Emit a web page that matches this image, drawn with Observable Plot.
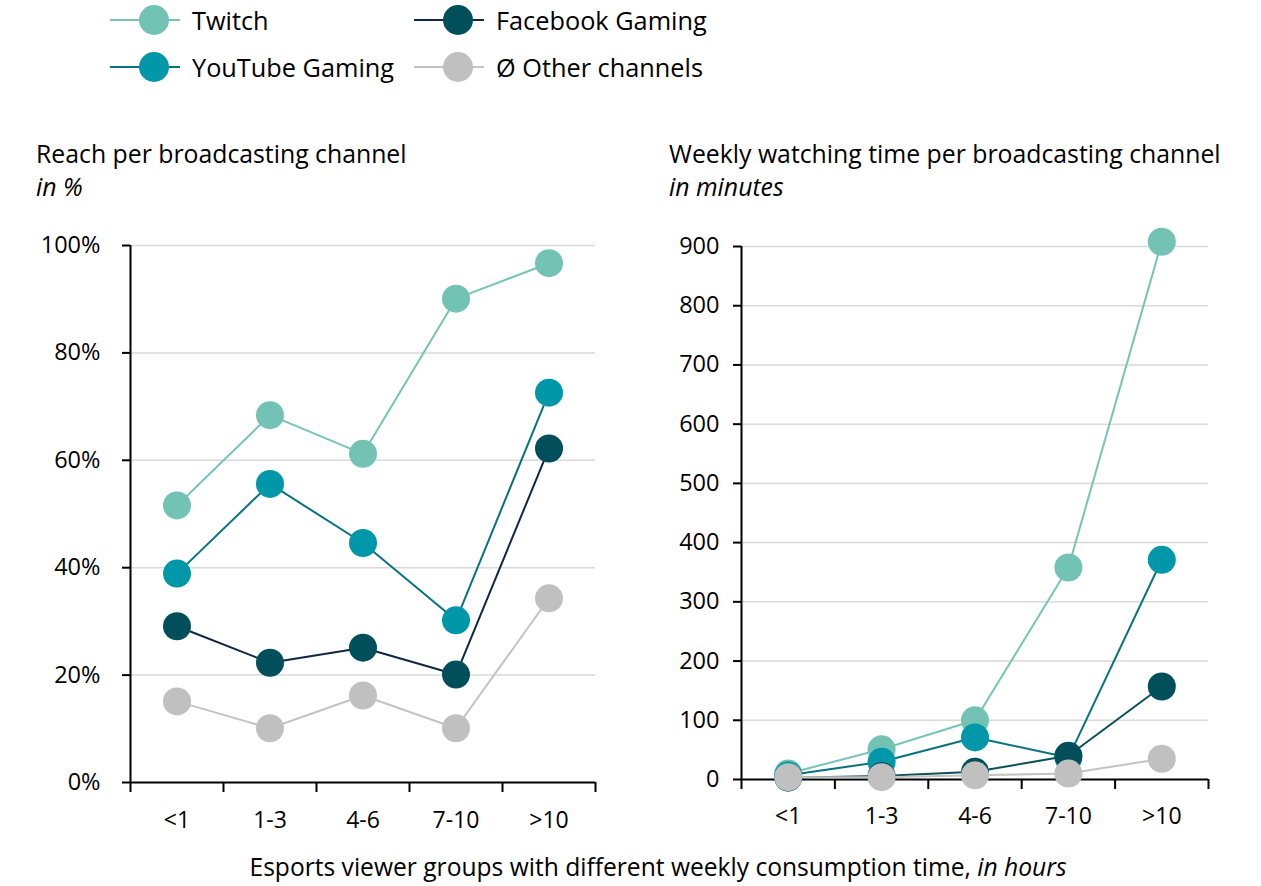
<!DOCTYPE html>
<html>
<head>
<meta charset="utf-8">
<script src="https://cdn.jsdelivr.net/npm/d3@7"></script>
<script src="https://cdn.jsdelivr.net/npm/@observablehq/plot@0.6"></script>
<style>
  html, body { margin: 0; padding: 0; background: #fff; }
  body { width: 1261px; height: 886px; position: relative; overflow: hidden; font-family: "Open Sans", Lato, sans-serif; color: #000; }
  .abs { position: absolute; white-space: nowrap; }
  .title { font-size: 24.8px; line-height: 33px; }
  .legend-item { position: absolute; display: flex; align-items: center; font-size: 25.3px; height: 36px; }
  .legend-item svg { display: block; margin-right: 12px; }
  #caption { font-size: 24.6px; left: 0; width: 1316px; text-align: center; top: 850px; }
</style>
</head>
<body>
<div id="legend"></div>
<div class="abs title" style="left:36px; top:137px;">Reach per broadcasting channel<br><i>in %</i></div>
<div class="abs title" style="left:669px; top:137px;">Weekly watching time per broadcasting channel<br><i>in minutes</i></div>
<div id="left" class="abs" style="left:0px; top:225px;"></div>
<div id="right" class="abs" style="left:620px; top:225px;"></div>
<div id="caption" class="abs">Esports viewer groups with different weekly consumption time, <i>in hours</i></div>
<script>
// ---- data ----
const categories = ["<1", "1-3", "4-6", "7-10", ">10"];
const seriesNames = ["Twitch", "YouTube Gaming", "Facebook Gaming", "Ø Other channels"];

const reachTwitch   = [51.6, 68.4, 61.2, 90.1, 96.7];
const reachYouTube  = [38.9, 55.6, 44.6, 30.2, 72.6];
const reachFacebook = [29.1, 22.3, 25.1, 20.1, 62.2];
const reachOthers   = [15.1, 10.1, 16.2, 10.1, 34.3];

const minutesTwitch   = [10, 51, 100, 358, 908];
const minutesYouTube  = [7, 30, 71, 37, 371];
const minutesFacebook = [3, 6, 13, 40, 157];
const minutesOthers   = [4, 4, 7, 10, 35];

const reachTicks = [0, 20, 40, 60, 80, 100];
const minutesTicks = [0, 100, 200, 300, 400, 500, 600, 700, 800, 900];

// ---- styles ----
const dotColors = ["#72c3b4", "#0098a8", "#004f5a", "#c0c0c0"];
const lineColorsLeft = ["#76c4b5", "#08737e", "#0f2645", "#c3c3c3"];
const lineColorsRight = ["#76c4b5", "#08737e", "#0b4f5a", "#c3c3c3"];
const FONT = "'Open Sans', Lato, sans-serif";

// ---- legend ----
const legendPos = [[110, 2], [110, 49], [414, 2], [414, 49]];
const legend = document.getElementById("legend");
seriesNames.forEach((name, s) => {
  const item = document.createElement("div");
  item.className = "legend-item";
  item.style.left = legendPos[s][0] + "px";
  item.style.top = legendPos[s][1] + "px";
  item.innerHTML = `<svg width="70" height="36"><line x1="0" x2="70" y1="18" y2="18" stroke="${lineColorsLeft[s]}" stroke-width="2"/><circle cx="44" cy="18" r="15" fill="${dotColors[s]}"/></svg><span>${name}</span>`;
  legend.appendChild(item);
});

function buildRows(arrays) {
  const rows = [];
  arrays.forEach((arr, s) => arr.forEach((v, i) => rows.push({series: seriesNames[s], s, cat: categories[i], i, value: v})));
  return rows;
}

function makeChart({arrays, ticks, domain, fmt, marginLeft, marginRight, marginTop, marginBottom, labelDy, lineColors, tickPadding}) {
  const rows = buildRows(arrays);
  const seriesMarks = [];
  seriesNames.forEach((name, s) => {
    const d = rows.filter(r => r.s === s);
    seriesMarks.push(Plot.line(d, {x: r => r.i + 0.5, y: "value", stroke: lineColors[s], strokeWidth: 2}));
    seriesMarks.push(Plot.dot(d, {x: r => r.i + 0.5, y: "value", r: 14, fill: dotColors[s], stroke: "none"}));
  });
  return Plot.plot({
    width: 620,
    height: 620,
    marginLeft, marginRight, marginTop, marginBottom,
    style: {fontFamily: FONT, fontSize: "23px", color: "#000", background: "transparent"},
    x: {type: "linear", domain: [0, categories.length], axis: null},
    y: {domain, axis: null},
    marks: [
      Plot.ruleY(ticks.filter(t => t > 0), {stroke: "#d9d9d9", strokeWidth: 1.5}),
      Plot.axisY({ticks, tickFormat: fmt, tickSize: 8, tickPadding, label: null, strokeWidth: 2, stroke: "#000", fill: "#000", fontSize: 23.5, fontFamily: FONT}),
      Plot.ruleX([0], {y1: domain[0], y2: domain[1], stroke: "#000", strokeWidth: 2}),
      Plot.axisX({ticks: d3.range(categories.length + 1), tickFormat: () => "", label: null, tickSize: 10, strokeWidth: 2, stroke: "#000"}),
      Plot.ruleY([0], {x1: 0, x2: categories.length, stroke: "#000", strokeWidth: 2}),
      Plot.text(categories, {x: (d, i) => i + 0.5, y: domain[0], dy: labelDy, text: d => d, fontSize: 23, fontFamily: FONT, fill: "#000"}),
      ...seriesMarks
    ]
  });
}

document.getElementById("left").appendChild(makeChart({
  arrays: [reachTwitch, reachYouTube, reachFacebook, reachOthers],
  ticks: reachTicks, domain: [0, 100], fmt: d => d + "%",
  marginLeft: 130, marginRight: 25, marginTop: 20, marginBottom: 63,
  labelDy: 38, lineColors: lineColorsLeft, tickPadding: 22
}));

document.getElementById("right").appendChild(makeChart({
  arrays: [minutesTwitch, minutesYouTube, minutesFacebook, minutesOthers],
  ticks: minutesTicks, domain: [0, 900], fmt: d => String(d),
  marginLeft: 121, marginRight: 32, marginTop: 21, marginBottom: 66,
  labelDy: 37, lineColors: lineColorsRight, tickPadding: 14
}));
</script>
</body>
</html>
